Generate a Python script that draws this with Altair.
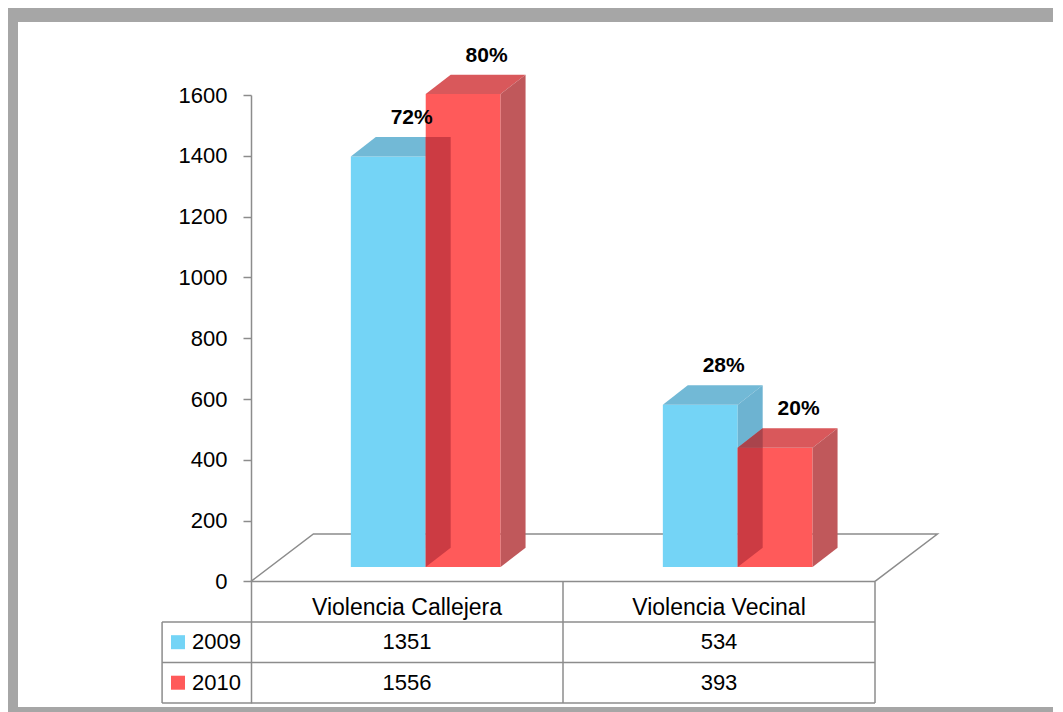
import altair as alt
import pandas as pd

# ---------------- data ----------------
categories = ["Violencia Callejera", "Violencia Vecinal"]
years = ["2009", "2010"]
values_2009 = [1351, 534]
values_2010 = [1556, 393]
pct_2009 = ["72%", "28%"]
pct_2010 = ["80%", "20%"]
y_ticks = [0, 200, 400, 600, 800, 1000, 1200, 1400, 1600]

series_values = {"2009": values_2009, "2010": values_2010}
series_pct = {"2009": pct_2009, "2010": pct_2010}

# ---------------- style ----------------
FRONT = {"2009": "#74d4f6", "2010": "#ff5a5a"}
TOP = {"2009": "#72b9d6", "2010": "#d9585b"}
SIDE = {"2009": "#6db3d1", "2010": "#c0585b"}
OVER_FRONT = "#cc3b43"
OVER_TOP = "#a9444c"
GRID = "#8c8c8c"
FONT = "Liberation Sans"

# 3D geometry (in scale units)
BASE = 47
DY = 64
DX = 0.08
BAR_W = 0.24
START = 0.32
FLOOR_DX = 0.2
FLOOR_DY = 156
ROW_H = 133.3
LEFT_COL = -0.285
N = len(categories)

xs = alt.Scale(domain=[0, 2.25], nice=False, zero=False)
ys = alt.Scale(domain=[-400, 1600], nice=False, zero=False)
Y_AXIS = alt.Axis(
    values=y_ticks, format="d", tickSize=8, tickColor=GRID, tickWidth=1.5,
    domainColor=GRID, domainWidth=1.5, labelFontSize=22, labelFont=FONT,
    labelColor="black", labelPadding=16, grid=False, title=None, zindex=2)


def X(field):
    return alt.X(field, scale=xs, axis=None)


def Y(field):
    return alt.Y(field, scale=ys, axis=Y_AXIS, stack=None)


faces = {}


def add(layer, key, pts, color):
    rows = faces.setdefault(layer, [])
    for x, lo, hi in pts:
        rows.append(dict(key=key, x=x, lo=lo, hi=hi, color=color))


pct_rows = []
for i, cat in enumerate(categories):
    tops = {}
    for j, yr in enumerate(years):
        v = series_values[yr][i]
        x0 = i + START + j * BAR_W
        b = BASE
        t = BASE + v
        tops[yr] = (x0, t)
        key = f"{i}-{yr}"
        add(f"{yr}-front", key, [(x0, b, t), (x0 + BAR_W, b, t)], FRONT[yr])
        add(f"{yr}-top", key, [(x0, t, t), (x0 + DX, t, t + DY),
                               (x0 + BAR_W, t, t + DY), (x0 + BAR_W + DX, t + DY, t + DY)], TOP[yr])
        add(f"{yr}-side", key, [(x0 + BAR_W, b, t), (x0 + BAR_W + DX, b + DY, t + DY)], SIDE[yr])
        pct_rows.append(dict(x=x0 + (BAR_W + DX) / 2 + 0.035, y=t + DY + 62, text=series_pct[yr][i]))
    x1, tr = tops["2010"]
    _, tb = tops["2009"]
    b = BASE
    U = min(tb + DY, tr)
    add("over-front", str(i), [(x1, b, U), (x1 + DX, b + DY, U)], OVER_FRONT)
    if tr < tb + DY:
        if tr <= tb:
            pts = [(x1, tr, tr), (x1 + DX, tr, tr + DY)]
        else:
            s = (tb + DY - tr) / DY
            pts = [(x1, tr, tr), (x1 + s * DX, tr, tb + DY), (x1 + DX, tr, tb + DY)]
        add("over-top", str(i), pts, OVER_TOP)

df_pct = pd.DataFrame(pct_rows)

layer_order = ["2009-front", "2009-top", "2009-side",
               "2010-front", "2010-top", "2010-side", "over-front", "over-top"]

# frame interior
frame = alt.Chart(pd.DataFrame({"a": [0]})).mark_rect(color="white").encode(
    x=alt.value(-233), x2=alt.value(830), y=alt.value(-73), y2=alt.value(612)
)

# floor outline
df_floor = pd.DataFrame({
    "x": [0, FLOOR_DX, N + FLOOR_DX, N],
    "y": [0, FLOOR_DY, FLOOR_DY, 0],
    "o": [0, 1, 2, 3],
})
floor = alt.Chart(df_floor).mark_line(color=GRID, strokeWidth=1.5).encode(
    x=X("x:Q"), y=Y("y:Q"), order="o:Q",
)

# table rules
rules = [dict(x=0, x2=N, y=0, y2=0)]
for r in range(1, len(years) + 2):
    yy = -ROW_H * r if r < len(years) + 1 else -400
    rules.append(dict(x=LEFT_COL, x2=N, y=yy, y2=yy))
rules.append(dict(x=LEFT_COL, x2=LEFT_COL, y=-ROW_H, y2=-400))
for c in range(1, N + 1):
    rules.append(dict(x=c, x2=c, y=0, y2=-400))
df_rules = pd.DataFrame(rules)

rule_layer = alt.Chart(df_rules).mark_rule(color=GRID, strokeWidth=1.5).encode(
    x=X("x:Q"), x2="x2:Q", y=Y("y:Q"), y2="y2:Q",
)

face_layers = []
for name in layer_order:
    if name not in faces:
        continue
    face_layers.append(
        alt.Chart(pd.DataFrame(faces[name]))
        .mark_area(orient="vertical", interpolate="linear", opacity=1)
        .encode(
            x=X("x:Q"),
            y=Y("lo:Q"),
            y2="hi:Q",
            color=alt.Color("color:N", scale=None),
            detail="key:N",
        )
    )

pct_layer = alt.Chart(df_pct).mark_text(
    font=FONT, fontSize=21, fontWeight="bold", color="black", align="center", baseline="middle"
).encode(x=X("x:Q"), y=Y("y:Q"), text="text:N")

# table text
df_head = pd.DataFrame({"x": [i + 0.5 for i in range(N)],
                        "y": [-ROW_H * 0.66] * N,
                        "text": categories})
head_layer = alt.Chart(df_head).mark_text(
    font=FONT, fontSize=23, color="black", align="center", baseline="middle"
).encode(x=X("x:Q"), y=Y("y:Q"), text="text:N")

cells = []
legend_rows = []
for j, yr in enumerate(years):
    yc = -ROW_H * (j + 1.5)
    for i in range(N):
        cells.append(dict(x=i + 0.5, y=yc, text=str(series_values[yr][i])))
    legend_rows.append(dict(xs=LEFT_COL + 0.051, xt=LEFT_COL + 0.096, y=yc, text=yr, color=FRONT[yr]))
df_cells = pd.DataFrame(cells)
df_leg = pd.DataFrame(legend_rows)

cell_layer = alt.Chart(df_cells).mark_text(
    font=FONT, fontSize=22, color="black", align="center", baseline="middle"
).encode(x=X("x:Q"), y=Y("y:Q"), text="text:N")

leg_sq = alt.Chart(df_leg).mark_square(size=196, opacity=1, filled=True).encode(
    x=X("xs:Q"), y=Y("y:Q"), color=alt.Color("color:N", scale=None),
)
leg_txt = alt.Chart(df_leg).mark_text(
    font=FONT, fontSize=22, color="black", align="left", baseline="middle"
).encode(x=X("xt:Q"), y=Y("y:Q"), text="text:N")

chart = alt.layer(
    frame, floor, rule_layer, *face_layers, pct_layer, head_layer, cell_layer, leg_sq, leg_txt
).properties(
    width=702,
    height=608,
    autosize=alt.AutoSizeParams(type="none"),
    padding={"left": 243, "top": 87, "right": 100, "bottom": 9},
    background="#a6a6a6",
).configure_view(stroke=None)

chart.save("out.html", embed_options={"renderer": "svg", "actions": False})
